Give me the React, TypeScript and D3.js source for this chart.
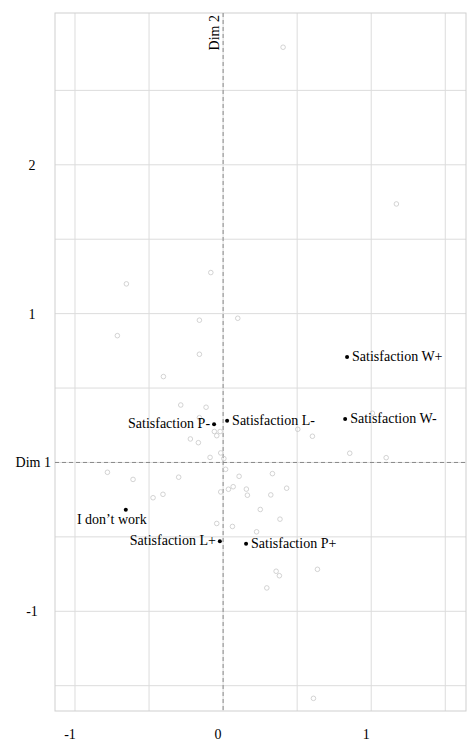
import React from "react";
import * as d3 from "d3";

const xTicks = [-1, -0.5, 0, 0.5, 1, 1.5];
const yTicks = [-1.5, -1, -0.5, 0, 0.5, 1, 1.5, 2, 2.5];
const xTickLabels = [-1, 0, 1];
const yTickLabels = [-1, 1, 2];

// supplementary (grey hollow) points
const suppX = [0.405, 1.170, -0.083, -0.653, -0.160, 0.099, -0.714, -0.160, -0.403, -0.286, -0.115, -0.160, -0.059, -0.020, -0.043, 0.504, 0.603, 1.008, -0.221, -0.167, 0.855, 1.101, -0.088, -0.016, 0.005, 0.017, -0.781, -0.608, -0.300, 0.108, 0.333, 0.429, 0.036, 0.068, -0.016, 0.157, 0.164, 0.322, -0.406, -0.473, 0.251, 0.384, -0.043, 0.063, 0.226, 0.637, 0.358, 0.380, 0.295, 0.610];
const suppY = [2.790, 1.737, 1.276, 1.200, 0.956, 0.969, 0.852, 0.727, 0.577, 0.386, 0.371, 0.301, 0.208, 0.208, 0.180, 0.223, 0.176, 0.331, 0.158, 0.133, 0.062, 0.032, 0.034, 0.064, 0.026, -0.046, -0.066, -0.114, -0.099, -0.093, -0.075, -0.173, -0.180, -0.163, -0.198, -0.179, -0.220, -0.218, -0.214, -0.237, -0.316, -0.381, -0.410, -0.430, -0.466, -0.718, -0.731, -0.761, -0.843, -1.585];

// active categories
const catNames = ["Satisfaction W+", "Satisfaction W-", "Satisfaction L-", "Satisfaction P-", "I don\u2019t work", "Satisfaction L+", "Satisfaction P+"];
const catX = [0.837, 0.824, 0.027, -0.061, -0.657, -0.022, 0.155];
const catY = [0.709, 0.292, 0.281, 0.257, -0.317, -0.530, -0.546];
const catPos = ["right", "right", "right", "left", "below", "left", "right"];

const W = 469;
const H = 742;
const left = 55, right = 466, top = 13, bottom = 711;
const textStyle = { fontFamily: 'Liberation Serif', fontSize: "14px" };

export default function App() {
  const x = d3.scaleLinear().domain([-1.135, 1.64]).range([left, right]);
  const y = d3.scaleLinear().domain([-1.67, 3.02]).range([bottom, top]);

  return (
    <svg width={W} height={H} style={{ position: "absolute", left: 0, top: 0, background: "#fff" }}>
      {xTicks.map((t) => (
        <line key={"gx" + t} x1={x(t)} x2={x(t)} y1={top} y2={bottom} stroke="#dcdcdc" strokeWidth={1} />
      ))}
      {yTicks.map((t) => (
        <line key={"gy" + t} x1={left} x2={right} y1={y(t)} y2={y(t)} stroke="#dcdcdc" strokeWidth={1} />
      ))}
      <rect x={left} y={top} width={right - left} height={bottom - top} fill="none" stroke="#cfcfcf" strokeWidth={1} />
      <line x1={x(0)} x2={x(0)} y1={top} y2={bottom} stroke="#888" strokeWidth={1} strokeDasharray="4,3" />
      <line x1={left} x2={right} y1={y(0)} y2={y(0)} stroke="#888" strokeWidth={1} strokeDasharray="4,3" />

      {xTickLabels.map((t) => (
        <text key={"lx" + t} x={x(t) - 5} y={739} style={textStyle} textAnchor="middle" fill="#000">
          {t}
        </text>
      ))}
      {yTickLabels.map((t) => (
        <text key={"ly" + t} x={32} y={y(t) + 5} style={textStyle} textAnchor="middle" fill="#000">
          {t}
        </text>
      ))}
      <text x={51} y={y(0) + 5} style={textStyle} textAnchor="end" fill="#000">Dim 1</text>
      <text transform={`translate(${x(0) - 4},${top + 2}) rotate(-90)`} style={textStyle} textAnchor="end" fill="#000">Dim 2</text>

      {suppX.map((v, i) => (
        <circle key={"s" + i} cx={x(v)} cy={y(suppY[i])} r={2.3} fill="none" stroke="#c8c8c8" strokeWidth={0.8} />
      ))}

      {catNames.map((n, i) => {
        const cx = x(catX[i]);
        const cy = y(catY[i]);
        const pos = catPos[i];
        let tx = cx + 5, ty = cy + 4, anchor = "start";
        if (pos === "left") { tx = cx - 4; anchor = "end"; }
        if (pos === "below") { tx = cx - 14; ty = cy + 14; anchor = "middle"; }
        return (
          <g key={"c" + i}>
            <circle cx={cx} cy={cy} r={2} fill="#000" />
            <text x={tx} y={ty} style={textStyle} textAnchor={anchor} fill="#000">{n}</text>
          </g>
        );
      })}
    </svg>
  );
}
